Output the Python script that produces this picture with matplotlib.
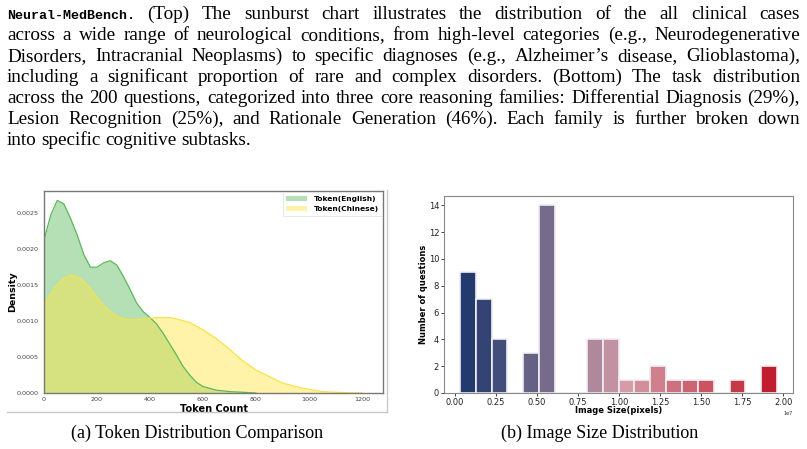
import numpy as np
import matplotlib.pyplot as plt
from matplotlib.colors import LinearSegmentedColormap
from matplotlib.lines import Line2D

# ---- data ----
caption_head = "Neural-MedBench."
caption_lines = [
    "(Top) The sunburst chart illustrates the distribution of the all clinical cases",
    "across a wide range of neurological conditions, from high-level categories (e.g., Neurodegenerative",
    "Disorders, Intracranial Neoplasms) to specific diagnoses (e.g., Alzheimer\u2019s disease, Glioblastoma),",
    "including a significant proportion of rare and complex disorders.  (Bottom) The task distribution",
    "across the 200 questions, categorized into three core reasoning families: Differential Diagnosis (29%),",
    "Lesion Recognition (25%), and Rationale Generation (46%). Each family is further broken down",
    "into specific cognitive subtasks.",
]
sub_a = "(a) Token Distribution Comparison"
sub_b = "(b) Image Size Distribution"

tok_en_x = [0, 25, 50, 75, 100, 125, 150, 175, 200, 225, 250, 275, 300, 325, 350,
            375, 400, 425, 450, 475, 500, 525, 550, 575, 600, 650, 700, 750, 800]
tok_en_y = [0.00213, 0.00247, 0.00268, 0.00263, 0.00243, 0.00220, 0.00193, 0.00175,
            0.00175, 0.00181, 0.00184, 0.00178, 0.00162, 0.00144, 0.00125, 0.00113,
            0.00105, 0.00096, 0.00083, 0.00068, 0.00053, 0.00037, 0.00025, 0.00015,
            0.00009, 0.00004, 0.00002, 0.00001, 0.0]

tok_zh_x = [0, 25, 50, 75, 100, 125, 150, 175, 200, 225, 250, 275, 300, 325, 350,
            375, 400, 425, 450, 475, 500, 550, 600, 650, 700, 750, 800, 850, 900,
            950, 1000, 1050, 1100, 1150, 1200]
tok_zh_y = [0.00122, 0.00137, 0.00151, 0.00159, 0.00164, 0.00162, 0.00155, 0.00145,
            0.00133, 0.00122, 0.00113, 0.00107, 0.00103, 0.00102, 0.00102, 0.00103,
            0.00104, 0.00105, 0.00105, 0.00105, 0.00103, 0.00098, 0.00088, 0.00076,
            0.00061, 0.00045, 0.00032, 0.00023, 0.00014, 0.00009, 0.00005, 0.00002,
            0.00001, 0.000003, 0.0]

size_min, size_max = 0.030e7, 1.963e7
size_counts = [9, 7, 4, 0, 3, 14, 0, 0, 4, 4, 1, 1, 2, 1, 1, 1, 0, 1, 0, 2]

# ---- figure ----
W, H = 807, 449
fig = plt.figure(figsize=(W / 100, H / 100), dpi=100)


def fx(px):
    return px / W


def fy(py):
    return 1 - py / H


renderer = fig.canvas.get_renderer()
mono = dict(family="Liberation Mono", fontsize=9.6, weight="bold", color="black")


def text_w(s, **kw):
    t = fig.text(0, 0, s, **kw)
    w = t.get_window_extent(renderer).width
    t.remove()
    return w


# pick the serif size so the tightest justified line just fills the column
x_left, x_right = 7, 800
worst = 0
for i, line in enumerate(caption_lines[:-1]):
    w = text_w(line, family="Liberation Serif", fontsize=10)
    avail = x_right - x_left
    if i == 0:
        avail -= text_w(caption_head + " ", **mono)
    worst = max(worst, w / avail)
serif = dict(family="Liberation Serif", fontsize=10 / worst * 0.99, color="black")


def put_line(parts, y, x0, x1, justify=True):
    objs = [fig.text(0, fy(y), w, va="baseline", ha="left", **kw) for w, kw in parts]
    widths = [t.get_window_extent(renderer).width for t in objs]
    if justify and len(objs) > 1:
        gap = (x1 - x0 - sum(widths)) / (len(objs) - 1)
    else:
        gap = text_w("a a", **serif) - text_w("aa", **serif)
    x = x0
    for t, w in zip(objs, widths):
        t.set_x(fx(x))
        x += w + gap


for i, line in enumerate(caption_lines):
    parts = [(w, serif) for w in line.split()]
    if i == 0:
        parts = [(caption_head, mono)] + parts
    put_line(parts, 19 + 21 * i, x_left, x_right, justify=(i < len(caption_lines) - 1))

# ---- (a) token density ----
ax1 = fig.add_axes([fx(44), fy(393), fx(383) - fx(44), fy(191) - fy(393)])
green = "#5cb85c"
yellow = "#ffe640"
ax1.fill_between(tok_en_x, tok_en_y, color=green, alpha=0.45, lw=0, label="Token(English)")
ax1.plot(tok_en_x, tok_en_y, color=green, lw=0.9)
ax1.fill_between(tok_zh_x, tok_zh_y, color=yellow, alpha=0.45, lw=0, label="Token(Chinese)")
ax1.plot(tok_zh_x, tok_zh_y, color="#f7e34a", lw=0.9)
ax1.set_xlim(0, 1280)
ax1.set_ylim(0, 0.00281)
ax1.set_xticks([0, 200, 400, 600, 800, 1000, 1200])
ax1.set_yticks([0, 0.0005, 0.001, 0.0015, 0.002, 0.0025])
ax1.set_yticklabels(["0.0000", "0.0005", "0.0010", "0.0015", "0.0020", "0.0025"])
ax1.tick_params(labelsize=4.6, length=0, pad=4, colors="#444444")
ax1.tick_params(axis="x", pad=3)
ax1.set_xlabel("Token Count", fontsize=7, weight="bold")
ax1.set_ylabel("Density", fontsize=6.8, weight="bold")
ax1.xaxis.set_label_coords(0.5, -0.079)
ax1.yaxis.set_label_coords(-0.093, 0.5)
ax1.xaxis.label.set_va("center")
ax1.yaxis.label.set_va("center")
for s in ax1.spines.values():
    s.set_color("#777777")
    s.set_linewidth(1.0)
leg = ax1.legend(loc="upper right", prop={"weight": "bold", "size": 5.4},
                 frameon=True, fancybox=False, borderaxespad=0.1, handlelength=2.8,
                 borderpad=0.5)
leg.get_frame().set_edgecolor("#dddddd")
leg.get_frame().set_linewidth(0.6)

# light border of the embedded left image
fig.add_artist(Line2D([fx(7), fx(387)], [fy(412), fy(412)], color="#c8c8c8", lw=1))
fig.add_artist(Line2D([fx(387), fx(387)], [fy(412), fy(190)], color="#c8c8c8", lw=1))

# ---- (b) image size histogram ----
ax2 = fig.add_axes([fx(444), fy(393), fx(793) - fx(444), fy(196) - fy(393)])
edges = np.linspace(size_min, size_max, len(size_counts) + 1)
cmap = LinearSegmentedColormap.from_list(
    "sz", [(0.0, "#223a6e"), (0.263, "#776b8b"), (0.526, "#d59ca8"), (1.0, "#c01e2e")])
colors = [cmap(i / (len(size_counts) - 1)) for i in range(len(size_counts))]
ax2.bar(edges[:-1], size_counts, width=np.diff(edges), align="edge", color=colors,
        edgecolor="#f0eef4", linewidth=1.2)
ax2.set_yticks(range(0, 15, 2))
ax2.set_xticks(np.arange(0, 2.01e7, 0.25e7))
ax2.tick_params(labelsize=6, length=2, width=0.6, pad=1.5, colors="#222222")
ax2.xaxis.get_offset_text().set_fontsize(3.5)
ax2.set_xlabel("Image Size(pixels)", fontsize=6, weight="bold")
ax2.set_ylabel("Number of questions", fontsize=6, weight="bold")
ax2.xaxis.set_label_coords(0.5, -0.088)
ax2.yaxis.set_label_coords(-0.058, 0.5)
ax2.xaxis.label.set_va("center")
ax2.yaxis.label.set_va("center")
for s in ax2.spines.values():
    s.set_color("#888888")
    s.set_linewidth(0.8)

# ---- subcaptions ----
cap = dict(family="Liberation Serif", fontsize=13, color="black")
fig.text(fx(197), fy(438), sub_a, ha="center", va="baseline", **cap)
fig.text(fx(600), fy(438), sub_b, ha="center", va="baseline", **cap)

fig.savefig("out.png", dpi=100)
